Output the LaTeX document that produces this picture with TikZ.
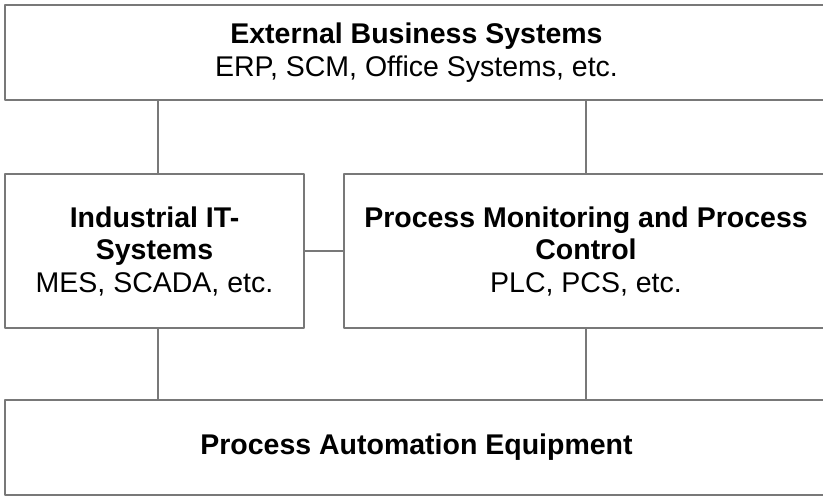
\documentclass[tikz,border=0pt]{standalone}
\usepackage{fontspec}
\setmainfont{Liberation Sans}
\begin{document}
\begin{tikzpicture}[x=1pt,y=-1pt,line join=round,
	layer/.style={draw={rgb,255:red,120;green,120;blue,120},line width=1.5pt,inner sep=0pt,align=center,
		font=\fontsize{28.5}{32.5}\selectfont},
	link/.style={draw={rgb,255:red,120;green,120;blue,120},line width=1.5pt}]
	\useasboundingbox (0,0) rectangle (823,496);
	\def\xmid{416.5}
	\def\xleft{154.5}
	\def\xright{586}
	\node[layer,minimum width=823pt,minimum height=95pt] (ebs) at (\xmid,52.5)
		{\textbf{External Business Systems}\\ERP, SCM, Office Systems, etc.};
	\node[layer,minimum width=299pt,minimum height=154pt] (it) at (\xleft,251)
		{\textbf{Industrial IT-}\\\textbf{Systems}\\MES, SCADA, etc.};
	\node[layer,minimum width=484pt,minimum height=154pt] (pmc) at (\xright,251)
		{\textbf{Process Monitoring and Process}\\\textbf{Control}\\PLC, PCS, etc.};
	\node[layer,minimum width=823pt,minimum height=95pt] (pae) at (\xmid,447.5)
		{\textbf{Process Automation Equipment}};
	\foreach \x/\y/\a/\b/\s in
	{
		it/ebs/north/south/3.5,
		pmc/ebs/north/south/0,
		it/pae/south/north/3.5,
		pmc/pae/south/north/0}
	{
		\draw[link] ([xshift=\s pt]\x.\a) -- ([xshift=\s pt]\x.\a |- \y.\b);
	}
	\draw[link] (it.east) -- (pmc.west);
\end{tikzpicture}
\end{document}
